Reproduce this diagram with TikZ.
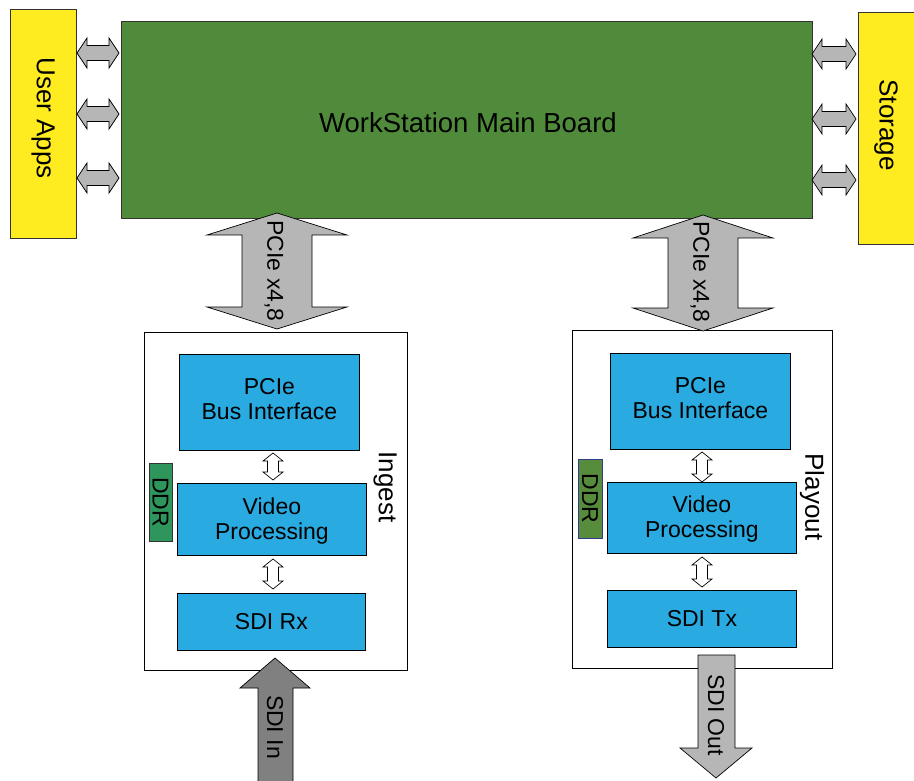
\documentclass[tikz,border=0pt]{standalone}
\usepackage{fontspec}
\setmainfont{Liberation Sans}
\definecolor{ylw}{RGB}{255,236,32}
\definecolor{brd}{RGB}{80,139,59}
\definecolor{blu}{RGB}{41,170,225}
\definecolor{ddrA}{RGB}{46,150,92}
\definecolor{ddrB}{RGB}{86,140,60}
\definecolor{ddrBb}{RGB}{50,60,140}
\definecolor{gryL}{RGB}{182,182,182}
\definecolor{gryD}{RGB}{128,128,128}
\newcommand\vdbl[7]{\draw[#7] (#1,#2) -- ({#1+#5},{#2+#6}) -- ({#1+#4},{#2+#6}) -- ({#1+#4},{#3-#6}) -- ({#1+#5},{#3-#6}) -- (#1,#3) -- ({#1-#5},{#3-#6}) -- ({#1-#4},{#3-#6}) -- ({#1-#4},{#2+#6}) -- ({#1-#5},{#2+#6}) -- cycle;}
\newcommand\hdbl[7]{\draw[#7] (#2,#1) -- ({#2+#6},{#1-#5}) -- ({#2+#6},{#1-#4}) -- ({#3-#6},{#1-#4}) -- ({#3-#6},{#1-#5}) -- (#3,#1) -- ({#3-#6},{#1+#5}) -- ({#3-#6},{#1+#4}) -- ({#2+#6},{#1+#4}) -- ({#2+#6},{#1+#5}) -- cycle;}
\begin{document}
\begin{tikzpicture}[x=1pt,y=-1pt,
  bigtxt/.style={font=\fontsize{26}{28}\selectfont},
  smtxt/.style={font=\fontsize{23}{25}\selectfont},
  blk/.style={draw=black, line width=0.8pt, fill=blu, anchor=north west, inner sep=0pt, align=center, smtxt},
  frame/.style={draw=black, line width=0.8pt, fill=white, anchor=north west, inner sep=0pt},
  gar/.style={draw=black, line width=0.7pt, fill=gryL},
  war/.style={draw=black, line width=0.7pt, fill=white},
  ]
\useasboundingbox (0,0) rectangle (914,781);
% top row
\node[draw=black!80, line width=0.8pt, fill=ylw, anchor=north west, minimum width=66pt, minimum height=229pt, inner sep=0pt] (apps) at (10,9) {};
\node[bigtxt, rotate=-90] (appst) at (43,118) {User Apps};
\node[draw=black!80, line width=0.8pt, fill=brd, anchor=north west, minimum width=691pt, minimum height=197pt, inner sep=0pt] (board) at (121,21) {};
\node[font=\fontsize{27.5}{30}\selectfont] (boardt) at (468,123) {WorkStation Main Board};
\node[draw=black!80, line width=0.8pt, fill=ylw, anchor=north west, minimum width=60pt, minimum height=232pt, inner sep=0pt] (stor) at (858,12) {};
\node[bigtxt, rotate=-90] (stort) at (886,125) {Storage};
\hdbl{53}{77}{119}{7.5}{15}{10}{gar}
\hdbl{114}{77}{119}{7.5}{15}{10}{gar}
\hdbl{178}{77}{119}{7.5}{15}{10}{gar}
\hdbl{54}{812}{856}{7.5}{15}{10}{gar}
\hdbl{119}{812}{856}{7.5}{15}{10}{gar}
\hdbl{180}{812}{856}{7.5}{15}{10}{gar}
% Ingest
\node[frame, minimum width=263pt, minimum height=338pt] (ing) at (144,332) {};
\node[blk, minimum width=180pt, minimum height=96pt] (ipci) at (179,354) {};
\node[smtxt, align=center] (ipcit) at (ipci.center) [yshift=3pt] {PCIe\\Bus Interface};
\node[blk, minimum width=189pt, minimum height=72pt] (ivp) at (177,483) {};
\node[smtxt, align=center] (ivpt) at (ivp.center) [yshift=-2pt] {Video\\Processing};
\node[blk, minimum width=188pt, minimum height=57pt] (isdi) at (177,593) {SDI Rx};
\node[draw=black!80, line width=0.6pt, fill=ddrA, anchor=north west, minimum width=23pt, minimum height=78pt, inner sep=0pt] (iddr) at (149,463) {};
\node[smtxt, rotate=-90] (iddrt) at (160.5,502) {DDR};
\node[bigtxt, rotate=-90] (ingt) at (385,487) {Ingest};
\vdbl{273}{453}{480}{5.5}{10}{8}{war}
\vdbl{273}{559}{589}{5.5}{10}{8}{war}
% Playout
\node[frame, minimum width=260pt, minimum height=338pt] (ply) at (572,330) {};
\node[blk, minimum width=180pt, minimum height=96pt] (ppci) at (610,353) {};
\node[smtxt, align=center] (ppcit) at (ppci.center) [yshift=3pt] {PCIe\\Bus Interface};
\node[blk, minimum width=189pt, minimum height=71pt] (pvp) at (607,482) {};
\node[smtxt, align=center] (pvpt) at (pvp.center) [yshift=-1pt] {Video\\Processing};
\node[blk, minimum width=189pt, minimum height=57pt] (psdi) at (607,590) {SDI Tx};
\node[draw=ddrBb, line width=0.8pt, fill=ddrB, anchor=north west, minimum width=24pt, minimum height=79pt, inner sep=0pt] (pddr) at (578,459) {};
\node[smtxt, rotate=-90] (pddrt) at (590,498.5) {DDR};
\node[bigtxt, rotate=-90] (plyt) at (812,497) {Playout};
\vdbl{702}{452}{482}{5.5}{10}{8}{war}
\vdbl{702}{557}{587}{5.5}{10}{8}{war}
% PCIe big arrows
\vdbl{277}{213}{329}{35}{70}{22}{gar}
\node[smtxt, rotate=-90] (pcieL) at (274,271) {PCIe x4,8};
\vdbl{703}{215}{331}{35}{70}{23}{gar}
\node[smtxt, rotate=-90] (pcieR) at (700,272) {PCIe x4,8};
% SDI In
\draw[draw=black, line width=0.7pt, fill=gryD] (275,658) -- (310,688) -- (293,688) -- (293,782) -- (258,782) -- (258,688) -- (240,688) -- cycle;
\node[smtxt, rotate=-90] (sdiin) at (275,727) {SDI In};
% SDI Out
\draw[draw=black, line width=0.7pt, fill=gryL] (698,655) -- (735,655) -- (735,748) -- (752,748) -- (716,778) -- (680,748) -- (698,748) -- cycle;
\node[smtxt, rotate=-90] (sdiout) at (716,715) {SDI Out};
\end{tikzpicture}
\end{document}
